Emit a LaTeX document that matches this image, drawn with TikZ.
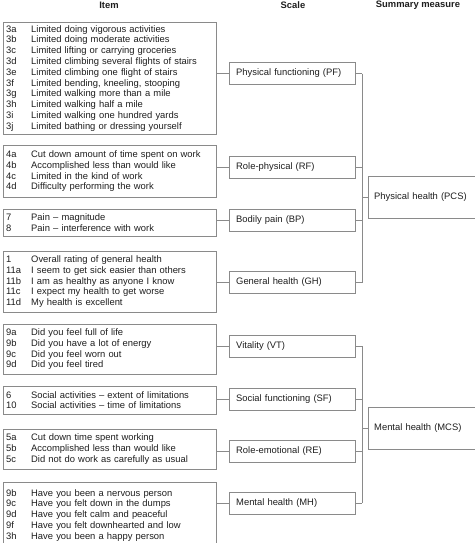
\documentclass[tikz,border=0pt]{standalone}
\usepackage{fontspec}
\setmainfont{Liberation Sans}
\usetikzlibrary{positioning}
\definecolor{ink}{HTML}{1E1E1E}
\definecolor{rule}{HTML}{8A8A8A}
\newcommand{\qrow}[2]{\makebox[25pt][l]{#1}#2}

\begin{document}
\begin{tikzpicture}[x=1pt,y=-1pt,
  txt/.style={font=\fontsize{9.4}{10.8}\selectfont,text=ink},
  head/.style={txt,font=\fontsize{9.4}{10.8}\selectfont\bfseries},
  itembox/.style={txt,draw=rule,anchor=north west,align=left,text width=207pt,inner xsep=3pt,inner ysep=0pt},
  scalebox/.style={txt,draw=rule,anchor=west,align=left,text width=112pt,inner xsep=7pt,minimum height=22pt},
  sumbox/.style={txt,draw=rule,anchor=west,align=left,text width=120pt,inner xsep=6pt,minimum height=42pt},
  link/.style={draw=rule,line width=0.8pt}]
        \useasboundingbox (0,0) rectangle (474,543);
        \node[head] (hitem) at (109,5) {Item};
        \node[head] (hscale) at (293,5) {Scale};
        \node[head] (hsum) at (418,5) {Summary measure};
        \node[itembox,minimum height=112pt] (pfi) at (3,22) {\qrow{3a}{Limited doing vigorous activities}\\\qrow{3b}{Limited doing moderate activities}\\\qrow{3c}{Limited lifting or carrying groceries}\\\qrow{3d}{Limited climbing several flights of stairs}\\\qrow{3e}{Limited climbing one flight of stairs}\\\qrow{3f}{Limited bending, kneeling, stooping}\\\qrow{3g}{Limited walking more than a mile}\\\qrow{3h}{Limited walking half a mile}\\\qrow{3i}{Limited walking one hundred yards}\\\qrow{3j}{Limited bathing or dressing yourself}};
        \node[itembox,minimum height=52pt] (rfi) at (3,145) {\qrow{4a}{Cut down amount of time spent on work}\\\qrow{4b}{Accomplished less than would like}\\\qrow{4c}{Limited in the kind of work}\\\qrow{4d}{Difficulty performing the work}};
        \node[itembox,minimum height=27pt] (bpi) at (3,209) {\qrow{7}{Pain -- magnitude}\\\qrow{8}{Pain -- interference with work}};
        \node[itembox,minimum height=61pt] (ghi) at (3,251) {\qrow{1}{Overall rating of general health}\\\qrow{11a}{I seem to get sick easier than others}\\\qrow{11b}{I am as healthy as anyone I know}\\\qrow{11c}{I expect my health to get worse}\\\qrow{11d}{My health is excellent}};
        \node[itembox,minimum height=50pt] (vti) at (3,324) {\qrow{9a}{Did you feel full of life}\\\qrow{9b}{Did you have a lot of energy}\\\qrow{9c}{Did you feel worn out}\\\qrow{9d}{Did you feel tired}};
        \node[itembox,minimum height=28pt] (sfi) at (3,386) {\qrow{6}{Social activities -- extent of limitations}\\\qrow{10}{Social activities -- time of limitations}};
        \node[itembox,minimum height=40pt] (rei) at (3,429) {\qrow{5a}{Cut down time spent working}\\\qrow{5b}{Accomplished less than would like}\\\qrow{5c}{Did not do work as carefully as usual}};
        \node[itembox,minimum height=66pt,inner ysep=3pt,anchor=north west] (mhi) at (3,482) {\qrow{9b}{Have you been a nervous person}\\\qrow{9c}{Have you felt down in the dumps}\\\qrow{9d}{Have you felt calm and peaceful}\\\qrow{9f}{Have you felt downhearted and low}\\\qrow{3h}{Have you been a happy person}\\[8pt]};
        \node[scalebox] (pf) at (229,73.5) {Physical functioning (PF)};
        \node[scalebox] (rf) at (229,167) {Role-physical (RF)};
        \node[scalebox] (bp) at (229,220.5) {Bodily pain (BP)};
        \node[scalebox] (gh) at (229,282.5) {General health (GH)};
        \node[scalebox] (vt) at (229,346) {Vitality (VT)};
        \node[scalebox] (sf) at (229,399) {Social functioning (SF)};
        \node[scalebox] (re) at (229,451) {Role-emotional (RE)};
        \node[scalebox] (mh) at (229,503) {Mental health (MH)};
        \node[sumbox] (pcs) at (368,197) {Physical health (PCS)};
        \node[sumbox] (mcs) at (368,428) {Mental health (MCS)};
        \coordinate (bar) at (362,0);
        \foreach \i/\s in {pfi/pf,rfi/rf,bpi/bp,ghi/gh,vti/vt,sfi/sf,rei/re,mhi/mh}
          \draw[link] (\i.east |- \s.west) -- (\s.west);
        \foreach \s in {pf,rf,bp,gh,vt,sf,re,mh}
          \draw[link] (\s.east) -- (\s.east -| bar);
        \draw[link] (pf.east -| bar) -- (gh.east -| bar);
        \draw[link] (vt.east -| bar) -- (mh.east -| bar);
        \draw[link] (pcs.west -| bar) -- (pcs.west);
        \draw[link] (mcs.west -| bar) -- (mcs.west);
      \end{tikzpicture}
\end{document}
